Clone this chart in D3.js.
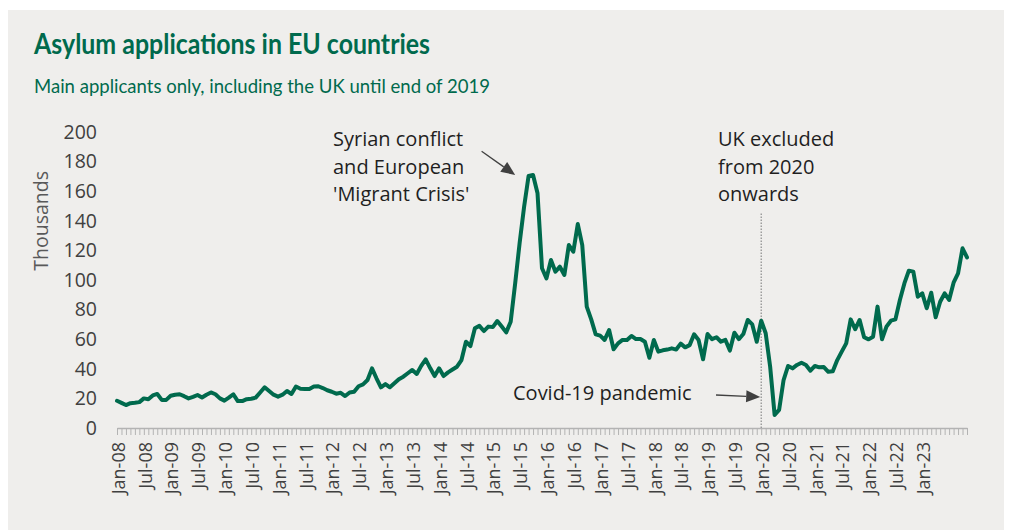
<!DOCTYPE html>
<html>
<head>
<meta charset="utf-8">
<script src="https://cdn.jsdelivr.net/npm/d3@7"></script>
<style>
  body { margin: 0; background: #ffffff; }
  svg { display: block; }
</style>
</head>
<body>
<svg id="chart" width="1012" height="530"></svg>
<script>
// Monthly asylum applications (main applicants, thousands), Jan 2008 onwards
const applications = [
  18.4, 17.0, 15.5, 16.8, 17.0, 17.5, 20.0, 19.4, 22.0, 23.0, 19.0, 19.0,   // 2008
  21.8, 22.5, 22.8, 21.5, 20.0, 21.0, 22.3, 20.6, 22.5, 24.0, 22.8, 20.0,   // 2009
  18.5, 20.5, 22.8, 18.2, 18.2, 19.5, 19.8, 20.5, 24.0, 27.5, 25.0, 22.5,   // 2010
  21.2, 22.5, 25.0, 23.0, 28.0, 26.5, 26.4, 26.4, 28.0, 28.2, 27.0, 25.5,   // 2011
  24.5, 23.2, 23.8, 21.6, 24.0, 24.5, 28.2, 29.5, 32.4, 40.3, 33.6, 27.5,   // 2012
  29.7, 27.5, 30.2, 33.0, 34.7, 37.0, 39.2, 36.5, 42.0, 46.4, 40.5, 35.1,   // 2013
  40.3, 35.1, 37.6, 39.5, 41.4, 45.9, 58.3, 55.4, 67.4, 69.0, 65.5, 68.5,   // 2014
  68.2, 72.3, 68.5, 64.6, 71.8, 97.7, 125.0, 149.5, 170.3, 171.0, 158.6, 107.9, // 2015
  101.1, 113.5, 105.6, 109.0, 103.4, 123.6, 119.1, 137.8, 123.6, 82.0, 73.4, 63.3, // 2016
  62.4, 59.5, 66.2, 53.2, 57.2, 59.5, 59.5, 62.2, 60.1, 60.1, 58.3, 47.5,   // 2017
  59.5, 51.6, 52.5, 53.0, 53.8, 53.0, 57.0, 54.5, 56.0, 63.3, 59.5, 46.4,   // 2018
  63.5, 60.0, 61.3, 58.3, 59.5, 52.3, 64.4, 60.0, 63.5, 73.0, 70.0, 58.3,   // 2019
  72.5, 64.0, 41.4, 8.8, 12.2, 32.4, 41.9, 40.3, 42.6, 44.1, 42.6, 38.7,    // 2020
  41.9, 41.0, 41.2, 38.0, 38.3, 45.9, 51.6, 57.2, 73.4, 66.7, 73.0, 61.3,   // 2021
  59.9, 61.7, 82.0, 59.9, 68.5, 72.5, 73.4, 86.5, 97.7, 106.3, 105.6, 88.7, // 2022
  91.0, 80.9, 91.4, 74.8, 85.3, 91.0, 86.5, 98.2, 104.5, 121.4, 115.3        // 2023
];

const firstMonth = new Date(2008, 0, 1);
const formatMonth = d3.timeFormat("%b-%y");
const categories = d3.range(applications.length)
  .map(i => formatMonth(d3.timeMonth.offset(firstMonth, i)));

const tickLabels = [
  "Jan-08", "Jul-08", "Jan-09", "Jul-09", "Jan-10", "Jul-10", "Jan-11", "Jul-11",
  "Jan-12", "Jul-12", "Jan-13", "Jul-13", "Jan-14", "Jul-14", "Jan-15", "Jul-15",
  "Jan-16", "Jul-16", "Jan-17", "Jul-17", "Jan-18", "Jul-18", "Jan-19", "Jul-19",
  "Jan-20", "Jul-20", "Jan-21", "Jul-21", "Jan-22", "Jul-22", "Jan-23"
];
const yTicks = [0, 20, 40, 60, 80, 100, 120, 140, 160, 180, 200];

const titleText = "Asylum applications in EU countries";
const subtitleText = "Main applicants only, including the UK until end of 2019";
const yAxisTitle = "Thousands";
const syrianNote = ["Syrian conflict", "and European", "'Migrant Crisis'"];
const ukNote = ["UK excluded", "from 2020", "onwards"];
const covidNote = "Covid-19 pandemic";
const breakMonth = "Jan-20";

const green = "#006a4d";
const svg = d3.select("#chart");

// panel
svg.append("rect")
  .attr("x", 8).attr("y", 10)
  .attr("width", 996).attr("height", 520)
  .attr("fill", "#efeeec");

// headings
svg.append("text")
  .attr("x", 34).attr("y", 54)
  .attr("font-family", "Lato, 'Noto Sans', sans-serif")
  .attr("font-weight", 700)
  .attr("font-size", 29)
  .attr("fill", green)
  .attr("textLength", 396)
  .attr("lengthAdjust", "spacingAndGlyphs")
  .text(titleText);

svg.append("text")
  .attr("x", 34).attr("y", 93)
  .attr("font-family", "Lato, 'Noto Sans', sans-serif")
  .attr("font-size", 20)
  .attr("fill", green)
  .attr("textLength", 456)
  .attr("lengthAdjust", "spacingAndGlyphs")
  .text(subtitleText);

// scales
const x = d3.scalePoint().domain(categories).range([117, 967]);
const y = d3.scaleLinear().domain([0, 200]).range([428, 132]);
const xAt = i => x(categories[0]) + i * x.step();

const font = "'Open Sans', 'Noto Sans', sans-serif";

// y axis labels
const yAxis = svg.append("g")
  .attr("transform", "translate(97,0)")
  .call(d3.axisLeft(y).tickValues(yTicks).tickSize(0).tickPadding(0));
yAxis.select(".domain").remove();
yAxis.selectAll("text")
  .attr("font-family", font)
  .attr("font-size", 19.5)
  .attr("fill", "#404040");

svg.append("text")
  .attr("transform", `translate(48,${y(140)}) rotate(-90)`)
  .attr("text-anchor", "middle")
  .attr("font-family", font)
  .attr("font-size", 19.5)
  .attr("fill", "#595959")
  .text(yAxisTitle);

// x axis with a tick for every month
const xAxis = svg.append("g")
  .attr("transform", `translate(0,${y(0)})`)
  .call(d3.axisBottom(x)
    .tickValues(categories)
    .tickSize(7)
    .tickSizeOuter(0)
    .tickFormat(d => tickLabels.includes(d) ? d : ""));
xAxis.select(".domain")
  .attr("stroke", "#b3b3b3")
  .attr("stroke-width", 1.5);
xAxis.selectAll(".tick line")
  .attr("stroke", "#b3b3b3")
  .attr("stroke-width", 1);
xAxis.selectAll(".tick text")
  .attr("transform", "rotate(-90)")
  .attr("x", -14)
  .attr("y", 0)
  .attr("dy", "0.4em")
  .attr("text-anchor", "end")
  .attr("font-family", font)
  .attr("font-size", 18)
  .attr("fill", "#404040");

// UK exclusion marker
const breakIndex = categories.indexOf(breakMonth);
svg.append("line")
  .attr("x1", x(breakMonth)).attr("x2", x(breakMonth))
  .attr("y1", y(145)).attr("y2", y(0))
  .attr("stroke", "#8a8a8a")
  .attr("stroke-width", 1.2)
  .attr("stroke-dasharray", "1.5,1.5");

// series
const line = d3.line()
  .x((d, i) => x(categories[i]))
  .y(d => y(d));
svg.append("path")
  .datum(applications)
  .attr("d", line)
  .attr("fill", "none")
  .attr("stroke", green)
  .attr("stroke-width", 4)
  .attr("stroke-linejoin", "round")
  .attr("stroke-linecap", "round");

// annotations
function arrow(x1, y1, x2, y2) {
  const ang = Math.atan2(y2 - y1, x2 - x1);
  const len = 14, half = 6;
  const bx = x2 - len * Math.cos(ang), by = y2 - len * Math.sin(ang);
  svg.append("line")
    .attr("x1", x1).attr("y1", y1).attr("x2", bx).attr("y2", by)
    .attr("stroke", "#404040").attr("stroke-width", 1.3);
  const px = -Math.sin(ang) * half, py = Math.cos(ang) * half;
  svg.append("polygon")
    .attr("points", [[x2, y2], [bx + px, by + py], [bx - px, by - py]].map(p => p.join(",")).join(" "))
    .attr("fill", "#404040");
}

function noteLines(lines, x0, y0) {
  const t = svg.append("text")
    .attr("font-family", font)
    .attr("font-size", 20)
    .attr("fill", "#1f1f1f");
  lines.forEach((s, i) => {
    t.append("tspan").attr("x", x0).attr("y", y0 + i * 27.5).text(s);
  });
}

noteLines(syrianNote, 333, 146);
arrow(xAt(81.5), y(187), xAt(89), y(171));

noteLines(ukNote, 718, 146);

svg.append("text")
  .attr("x", 513).attr("y", 400)
  .attr("font-family", font)
  .attr("font-size", 20)
  .attr("fill", "#1f1f1f")
  .text(covidNote);
arrow(xAt(133.9), y(22.3), xAt(breakIndex) - 1, y(21));
</script>
</body>
</html>
